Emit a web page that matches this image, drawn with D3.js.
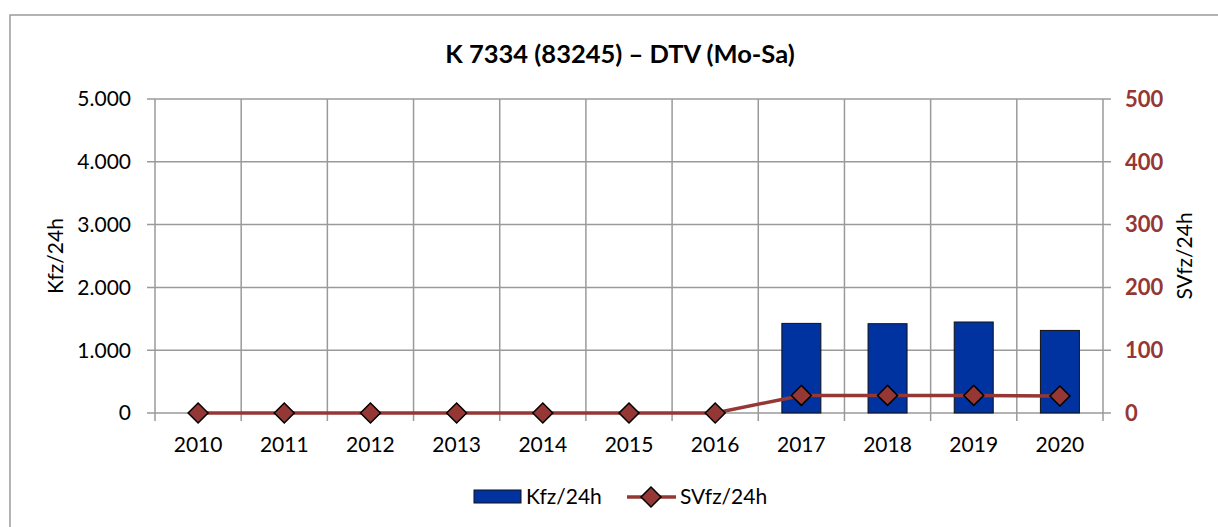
<!DOCTYPE html>
<html><head><meta charset="utf-8">
<script src="https://cdn.jsdelivr.net/npm/d3@7"></script>
<style>body{margin:0;background:#fff}svg{display:block;font-family:Lato,"Open Sans",sans-serif}</style>
</head><body><svg id="c" width="1218" height="527"></svg>
<script>
const years = ["2010","2011","2012","2013","2014","2015","2016","2017","2018","2019","2020"];
const kfz = [null,null,null,null,null,null,null,1427,1422,1449,1315];
const svfz = [0,0,0,0,0,0,0,28,28,28,27];
const leftTicks = [0,1000,2000,3000,4000,5000];
const rightTicks = [0,100,200,300,400,500];
const title = "K 7334 (83245) – DTV (Mo-Sa)";

const svg = d3.select("#c");
const L=155,R=1103,T=99,B=413;
const grid="#9a9a9a", red="#953735", blue="#0033A0";
const fs=21;
svg.append("rect").attr("x",10).attr("y",15).attr("width",1230).attr("height",530).attr("fill","#fff").attr("stroke",grid).attr("stroke-width",1.5);

const x = d3.scaleBand().domain(years).range([L,R]).paddingInner(0).paddingOuter(0);
const yL = d3.scaleLinear().domain([0,5000]).range([B,T]);
const yR = d3.scaleLinear().domain([0,500]).range([B,T]);
const fmt = d3.formatLocale({decimal:",",thousands:".",grouping:[3],currency:["","€"]}).format(",");

svg.append("g").selectAll("line").data(leftTicks).join("line")
 .attr("x1",L-8).attr("x2",R+8).attr("y1",d=>yL(d)).attr("y2",d=>yL(d))
 .attr("stroke",grid).attr("stroke-width",1.5);
const bounds = years.map(d=>x(d)).concat([R]);
svg.append("g").selectAll("line").data(bounds).join("line")
 .attr("x1",d=>d).attr("x2",d=>d).attr("y1",T).attr("y2",B+8)
 .attr("stroke",grid).attr("stroke-width",1.5);

svg.append("g").selectAll("text").data(leftTicks).join("text")
 .attr("x",L-24).attr("y",d=>yL(d)).attr("dy","0.35em").attr("text-anchor","end")
 .attr("font-size",fs).attr("fill","#000").text(d=>fmt(d));
svg.append("g").selectAll("text").data(rightTicks).join("text")
 .attr("x",R+22).attr("y",d=>yR(d)).attr("dy","0.35em").attr("text-anchor","start")
 .attr("font-size",22).attr("font-weight","bold").attr("fill",red).text(d=>d);
svg.append("g").selectAll("text").data(years).join("text")
 .attr("x",d=>x(d)+x.bandwidth()/2).attr("y",445).attr("dy","0.35em").attr("text-anchor","middle")
 .attr("font-size",fs).attr("fill","#000").text(d=>d);

const bw = 39;
svg.append("g").selectAll("rect").data(years.map((y,i)=>({y,v:kfz[i]})).filter(d=>d.v!=null)).join("rect")
 .attr("x",d=>x(d.y)+x.bandwidth()/2-bw/2).attr("width",bw)
 .attr("y",d=>yL(d.v)).attr("height",d=>B-yL(d.v))
 .attr("fill",blue).attr("stroke","#111").attr("stroke-width",1);

const pts = years.map((y,i)=>({y,v:svfz[i]}));
svg.append("path").datum(pts)
 .attr("d",d3.line().x(d=>x(d.y)+x.bandwidth()/2).y(d=>yR(d.v)))
 .attr("fill","none").attr("stroke",red).attr("stroke-width",3.5);
const dm = d3.symbol().type(d3.symbolSquare).size(200);
svg.append("g").selectAll("path").data(pts).join("path")
 .attr("d",dm).attr("transform",d=>`translate(${x(d.y)+x.bandwidth()/2},${yR(d.v)}) rotate(45)`)
 .attr("fill",red).attr("stroke","#000").attr("stroke-width",1.5);

svg.append("text").attr("x",620).attr("y",54).attr("dy","0.35em").attr("text-anchor","middle")
 .attr("font-size",25.5).attr("font-weight","bold").text(title);
svg.append("text").attr("transform",`translate(56,256) rotate(-90)`).attr("dy","0.35em").attr("text-anchor","middle").attr("font-size",fs).text("Kfz/24h");
svg.append("text").attr("transform",`translate(1185,256) rotate(-90)`).attr("dy","0.35em").attr("text-anchor","middle").attr("font-size",fs).text("SVfz/24h");

const lg = svg.append("g");
lg.append("rect").attr("x",474).attr("y",490).attr("width",47).attr("height",13).attr("fill",blue).attr("stroke","#111");
lg.append("text").attr("x",526).attr("y",497).attr("dy","0.35em").attr("font-size",fs).text("Kfz/24h");
lg.append("line").attr("x1",627).attr("x2",676).attr("y1",497).attr("y2",497).attr("stroke",red).attr("stroke-width",3.5);
lg.append("path").attr("d",dm).attr("transform","translate(651,497) rotate(45)").attr("fill",red).attr("stroke","#000").attr("stroke-width",1.5);
lg.append("text").attr("x",680).attr("y",497).attr("dy","0.35em").attr("font-size",fs).text("SVfz/24h");
</script></body></html>
